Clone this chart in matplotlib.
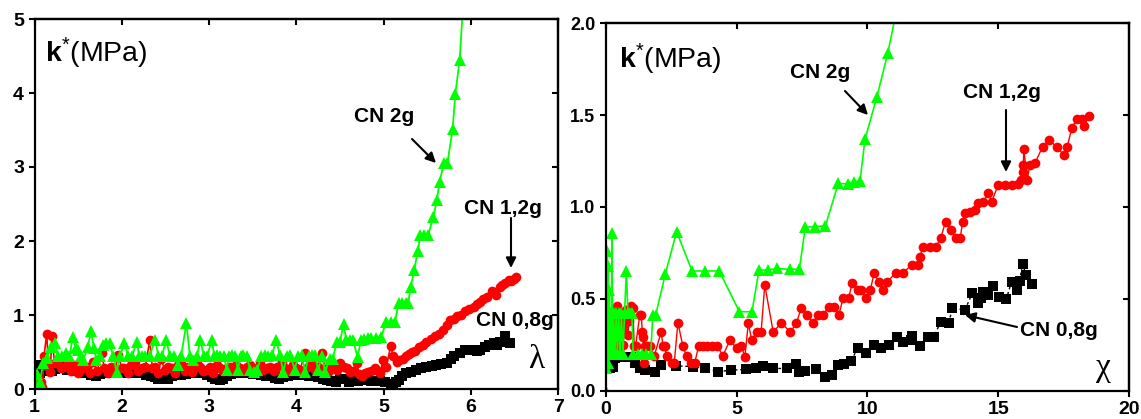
import matplotlib
matplotlib.use('Agg')
import matplotlib.pyplot as plt

plt.rcParams['font.family'] = ['Liberation Sans', 'DejaVu Sans']
plt.rcParams['mathtext.fontset'] = 'custom'
plt.rcParams['mathtext.rm'] = 'Liberation Sans'
plt.rcParams['mathtext.it'] = 'Liberation Sans:italic'
plt.rcParams['mathtext.bf'] = 'Liberation Sans:bold'

# ---------------- data: left panel (k* vs lambda) ----------------
left_xticks = [1, 2, 3, 4, 5, 6, 7]
left_yticks = [0, 1, 2, 3, 4, 5]

left_black_x = [1.00, 1.02, 1.04, 1.06, 1.08, 1.12, 1.16, 1.20, 1.24, 1.28, 1.32, 1.37, 1.42, 1.46, 1.50,
                1.55, 1.60, 1.65, 1.70, 1.75, 1.80, 1.84, 1.89, 1.94, 1.99, 2.03, 2.08, 2.13, 2.18, 2.23,
                2.28, 2.33, 2.38, 2.42, 2.47, 2.53, 2.58, 2.63, 2.68, 2.73, 2.78, 2.83, 2.88, 2.93, 2.98,
                3.03, 3.07, 3.12, 3.16, 3.20, 3.25, 3.30, 3.35, 3.40, 3.45, 3.50, 3.55, 3.60, 3.65, 3.70,
                3.75, 3.80, 3.85, 3.90, 3.95, 4.00, 4.05, 4.10, 4.15, 4.20, 4.25, 4.30, 4.35, 4.40, 4.45,
                4.50, 4.55, 4.60, 4.65, 4.70, 4.75, 4.80, 4.85, 4.90, 4.96, 5.02, 5.08, 5.11, 5.14, 5.17,
                5.21, 5.26, 5.31, 5.37, 5.43, 5.49, 5.55, 5.60, 5.66, 5.72, 5.77, 5.81, 5.87, 5.93, 5.98,
                6.03, 6.07, 6.10, 6.16, 6.21, 6.26, 6.30, 6.33, 6.39, 6.45]
left_black_y = [0.30, 0.25, 0.33, 0.22, 0.26, 0.24, 0.28, 0.25, 0.27, 0.30, 0.28, 0.26, 0.27, 0.28, 0.24,
                0.22, 0.21, 0.19, 0.18, 0.20, 0.22, 0.23, 0.22, 0.21, 0.22, 0.25, 0.24, 0.22, 0.21, 0.21,
                0.19, 0.18, 0.16, 0.14, 0.13, 0.14, 0.17, 0.19, 0.19, 0.20, 0.21, 0.22, 0.23, 0.21, 0.19,
                0.16, 0.14, 0.12, 0.13, 0.17, 0.20, 0.22, 0.23, 0.22, 0.21, 0.20, 0.21, 0.19, 0.18, 0.17,
                0.15, 0.14, 0.16, 0.18, 0.19, 0.19, 0.20, 0.19, 0.18, 0.17, 0.16, 0.14, 0.12, 0.11, 0.10,
                0.14, 0.13, 0.10, 0.12, 0.11, 0.12, 0.12, 0.11, 0.11, 0.11, 0.09, 0.07, 0.07, 0.10, 0.12,
                0.17, 0.21, 0.23, 0.26, 0.28, 0.30, 0.31, 0.32, 0.34, 0.35, 0.40, 0.44, 0.48, 0.53, 0.53,
                0.53, 0.52, 0.53, 0.57, 0.59, 0.62, 0.60, 0.64, 0.72, 0.62]

left_red_x = [1.00, 1.03, 1.05, 1.07, 1.09, 1.11, 1.14, 1.16, 1.18, 1.20, 1.23, 1.27, 1.30, 1.34, 1.38,
              1.42, 1.46, 1.50, 1.55, 1.60, 1.64, 1.67, 1.72, 1.77, 1.80, 1.84, 1.88, 1.92, 1.96, 2.00,
              2.03, 2.07, 2.11, 2.15, 2.19, 2.23, 2.27, 2.32, 2.35, 2.38, 2.42, 2.45, 2.49, 2.53, 2.57,
              2.61, 2.64, 2.68, 2.72, 2.76, 2.80, 2.83, 2.86, 2.90, 2.93, 2.97, 3.01, 3.05, 3.09, 3.13,
              3.16, 3.20, 3.24, 3.28, 3.31, 3.35, 3.39, 3.43, 3.47, 3.51, 3.55, 3.58, 3.62, 3.66, 3.70,
              3.74, 3.78, 3.83, 3.87, 3.91, 3.96, 4.00, 4.04, 4.10, 4.13, 4.17, 4.21, 4.25, 4.29, 4.33,
              4.37, 4.42, 4.46, 4.50, 4.54, 4.58, 4.61, 4.65, 4.69, 4.72, 4.75, 4.79, 4.82, 4.86, 4.90,
              4.93, 4.96, 4.99, 5.03, 5.08, 5.11, 5.15, 5.18, 5.22, 5.26, 5.29, 5.32, 5.36, 5.41, 5.45,
              5.49, 5.54, 5.59, 5.63, 5.68, 5.72, 5.76, 5.80, 5.84, 5.88, 5.93, 5.98, 6.03, 6.07, 6.10,
              6.14, 6.18, 6.24, 6.29, 6.33, 6.36, 6.39, 6.43, 6.46, 6.49, 6.52]
left_red_y = [0.00, 0.14, 0.05, 0.10, 0.03, 0.45, 0.75, 0.30, 0.23, 0.71, 0.35, 0.39, 0.28, 0.30, 0.35,
              0.25, 0.32, 0.22, 0.28, 0.30, 0.22, 0.37, 0.25, 0.48, 0.28, 0.22, 0.30, 0.25, 0.46, 0.28,
              0.28, 0.22, 0.33, 0.37, 0.24, 0.28, 0.30, 0.66, 0.28, 0.30, 0.22, 0.41, 0.26, 0.30, 0.28,
              0.22, 0.32, 0.35, 0.25, 0.30, 0.23, 0.28, 0.35, 0.30, 0.24, 0.26, 0.30, 0.22, 0.32, 0.28,
              0.25, 0.28, 0.30, 0.24, 0.32, 0.28, 0.25, 0.30, 0.32, 0.26, 0.28, 0.35, 0.26, 0.28, 0.30,
              0.24, 0.30, 0.37, 0.28, 0.25, 0.32, 0.28, 0.26, 0.48, 0.30, 0.35, 0.26, 0.30, 0.48, 0.28,
              0.24, 0.30, 0.26, 0.35, 0.30, 0.28, 0.23, 0.25, 0.35, 0.20, 0.17, 0.22, 0.23, 0.25, 0.28,
              0.24, 0.21, 0.39, 0.30, 0.58, 0.44, 0.36, 0.39, 0.40, 0.44, 0.47, 0.50, 0.52, 0.57, 0.60,
              0.64, 0.67, 0.71, 0.75, 0.80, 0.86, 0.93, 0.95, 0.98, 1.00, 1.05, 1.08, 1.11, 1.15, 1.18,
              1.21, 1.25, 1.32, 1.27, 1.38, 1.40, 1.43, 1.47, 1.46, 1.48, 1.51]

left_green_x = [1.00, 1.03, 1.06, 1.10, 1.14, 1.19, 1.23, 1.27, 1.31, 1.36, 1.40, 1.44, 1.47, 1.50, 1.53,
                1.56, 1.61, 1.65, 1.68, 1.71, 1.75, 1.78, 1.82, 1.86, 1.90, 1.94, 1.98, 2.03, 2.07, 2.12,
                2.17, 2.20, 2.23, 2.27, 2.32, 2.38, 2.42, 2.46, 2.51, 2.55, 2.60, 2.64, 2.68, 2.74, 2.78,
                2.82, 2.86, 2.90, 2.94, 2.98, 3.03, 3.06, 3.09, 3.13, 3.17, 3.20, 3.23, 3.26, 3.30, 3.33,
                3.36, 3.39, 3.43, 3.47, 3.51, 3.55, 3.60, 3.64, 3.68, 3.72, 3.77, 3.81, 3.85, 3.89, 3.93,
                3.98, 4.02, 4.06, 4.10, 4.14, 4.18, 4.21, 4.25, 4.29, 4.33, 4.38, 4.42, 4.46, 4.50, 4.54,
                4.57, 4.61, 4.65, 4.70, 4.74, 4.78, 4.82, 4.86, 4.91, 4.97, 5.03, 5.08, 5.13, 5.17, 5.21,
                5.25, 5.28, 5.31, 5.35, 5.39, 5.42, 5.46, 5.51, 5.57, 5.61, 5.64, 5.69, 5.73, 5.79, 5.82,
                5.87, 5.91]
left_green_y = [0.00, 0.20, 0.10, 0.35, 0.42, 0.57, 0.62, 0.45, 0.44, 0.48, 0.45, 0.70, 0.55, 0.53, 0.45,
                0.39, 0.57, 0.78, 0.55, 0.39, 0.45, 0.59, 0.62, 0.62, 0.45, 0.23, 0.45, 0.62, 0.45, 0.45,
                0.64, 0.45, 0.44, 0.45, 0.45, 0.66, 0.45, 0.45, 0.66, 0.45, 0.45, 0.32, 0.45, 0.89, 0.45,
                0.39, 0.45, 0.66, 0.45, 0.45, 0.66, 0.45, 0.46, 0.45, 0.45, 0.26, 0.45, 0.46, 0.45, 0.26,
                0.45, 0.46, 0.45, 0.26, 0.23, 0.26, 0.45, 0.46, 0.45, 0.46, 0.66, 0.46, 0.23, 0.45, 0.46,
                0.26, 0.45, 0.46, 0.23, 0.45, 0.46, 0.46, 0.26, 0.45, 0.23, 0.41, 0.41, 0.64, 0.64, 0.88,
                0.66, 0.66, 0.66, 0.43, 0.66, 0.68, 0.69, 0.69, 0.69, 0.70, 0.91, 0.91, 0.91, 1.16, 1.16,
                1.16, 1.16, 1.38, 1.61, 1.86, 2.08, 2.08, 2.08, 2.33, 2.56, 2.80, 3.05, 3.05, 3.52, 3.98,
                4.45, 5.20]

# ---------------- data: right panel (k* vs chi) ----------------
right_xticks = [0, 5, 10, 15, 20]
right_yticks = [0.0, 0.5, 1.0, 1.5, 2.0]
right_yticklabels = ['0.0', '0.5', '1.0', '1.5', '2.0']

right_black_x = [0.10, 0.15, 0.18, 0.21, 0.26, 0.34, 0.50, 0.66, 0.98, 1.11, 1.30, 1.49, 1.87, 2.13, 2.70,
                 3.34, 3.78, 4.29, 4.80, 5.38, 5.73, 6.01, 6.40, 6.92, 7.29, 7.40, 7.61, 8.03, 8.38, 8.63,
                 8.87, 9.10, 9.39, 9.63, 9.93, 10.26, 10.53, 10.81, 11.13, 11.37, 11.65, 11.72, 12.02, 12.30,
                 12.55, 12.80, 13.11, 13.25, 13.73, 14.01, 14.22, 14.33, 14.43, 14.61, 14.82, 15.03, 15.31,
                 15.51, 15.72, 15.82, 15.93, 16.07, 16.31]
right_black_y = [0.19, 0.12, 0.16, 0.18, 0.13, 0.175, 0.18, 0.184, 0.184, 0.148, 0.12, 0.111, 0.102, 0.139,
                 0.134, 0.13, 0.12, 0.102, 0.111, 0.115, 0.12, 0.134, 0.12, 0.12, 0.143, 0.102, 0.107, 0.116,
                 0.075, 0.084, 0.139, 0.143, 0.161, 0.233, 0.202, 0.247, 0.233, 0.25, 0.293, 0.266, 0.275,
                 0.297, 0.242, 0.293, 0.293, 0.375, 0.368, 0.448, 0.439, 0.529, 0.475, 0.502, 0.538, 0.52,
                 0.569, 0.508, 0.497, 0.593, 0.547, 0.597, 0.689, 0.629, 0.581]

right_red_x = [0.02, 0.05, 0.08, 0.11, 0.14, 0.18, 0.22, 0.26, 0.30, 0.35, 0.40, 0.44, 0.48, 0.52, 0.57,
               0.62, 0.67, 0.72, 0.78, 0.84, 0.90, 0.98, 1.04, 1.09, 1.14, 1.30, 1.36, 1.40, 1.43, 1.47,
               1.49, 1.56, 1.68, 1.86, 2.12, 2.19, 2.25, 2.33, 2.53, 2.62, 2.76, 2.95, 3.09, 3.27, 3.40,
               3.55, 3.70, 3.86, 4.07, 4.27, 4.48, 4.75, 5.00, 5.18, 5.32, 5.45, 5.58, 5.80, 5.94, 6.08,
               6.40, 6.71, 7.06, 7.29, 7.47, 7.71, 7.93, 8.10, 8.31, 8.52, 8.72, 8.91, 9.07, 9.28, 9.42,
               9.63, 9.77, 9.93, 10.11, 10.26, 10.43, 10.58, 10.77, 11.09, 11.37, 11.69, 11.93, 12.02,
               12.11, 12.41, 12.62, 12.80, 12.99, 13.18, 13.39, 13.55, 13.64, 13.73, 13.94, 14.11, 14.24,
               14.43, 14.62, 14.75, 15.00, 15.26, 15.51, 15.77, 15.87, 15.93, 15.96, 15.98, 16.11, 16.21,
               16.40, 16.70, 16.95, 17.23, 17.51, 17.64, 17.81, 18.00, 18.19, 18.28, 18.48]
right_red_y = [0.20, 0.35, 0.25, 0.40, 0.34, 0.22, 0.38, 0.30, 0.44, 0.25, 0.36, 0.46, 0.30, 0.22, 0.40,
               0.33, 0.25, 0.37, 0.44, 0.30, 0.38, 0.46, 0.45, 0.24, 0.24, 0.41, 0.41, 0.32, 0.29, 0.15,
               0.24, 0.24, 0.24, 0.19, 0.32, 0.24, 0.24, 0.19, 0.15, 0.15, 0.37, 0.24, 0.19, 0.15, 0.15,
               0.24, 0.24, 0.24, 0.24, 0.24, 0.19, 0.275, 0.23, 0.24, 0.185, 0.366, 0.275, 0.32, 0.32, 0.575,
               0.32, 0.366, 0.32, 0.366, 0.45, 0.411, 0.366, 0.411, 0.411, 0.457, 0.457, 0.411, 0.502, 0.502,
               0.584, 0.547, 0.547, 0.502, 0.547, 0.638, 0.593, 0.547, 0.593, 0.642, 0.642, 0.684, 0.684,
               0.729, 0.783, 0.783, 0.783, 0.829, 0.919, 0.874, 0.829, 0.829, 0.919, 0.965, 0.974, 0.983,
               1.019, 1.028, 1.074, 1.028, 1.119, 1.119, 1.119, 1.124, 1.147, 1.192, 1.228, 1.313, 1.147,
               1.228, 1.237, 1.328, 1.364, 1.328, 1.283, 1.328, 1.428, 1.477, 1.477, 1.44, 1.495]

right_green_x = [0.00, 0.01, 0.02, 0.03, 0.05, 0.06, 0.08, 0.10, 0.12, 0.14, 0.16, 0.19, 0.22, 0.24, 0.27,
                 0.30, 0.35, 0.40, 0.45, 0.50, 0.55, 0.60, 0.66, 0.72, 0.79, 0.85, 0.93, 1.00, 1.05, 1.25,
                 1.40, 1.55, 1.72, 1.80, 1.91, 2.28, 2.71, 3.30, 3.78, 4.34, 5.11, 5.59, 5.86, 6.19, 6.54,
                 7.03, 7.40, 7.63, 7.99, 8.40, 8.89, 9.27, 9.49, 9.72, 9.91, 10.36, 10.78, 11.30]
right_green_y = [0.00, 0.55, 0.12, 0.70, 0.30, 0.76, 0.15, 0.68, 0.25, 0.55, 0.20, 0.42, 0.20, 0.86, 0.20,
                 0.42, 0.20, 0.42, 0.20, 0.42, 0.20, 0.42, 0.20, 0.42, 0.65, 0.42, 0.42, 0.42, 0.20, 0.20,
                 0.20, 0.20, 0.20, 0.41, 0.41, 0.635, 0.865, 0.651, 0.651, 0.651, 0.429, 0.429, 0.656, 0.656,
                 0.665, 0.66, 0.66, 0.89, 0.892, 0.898, 1.128, 1.125, 1.137, 1.141, 1.368, 1.597, 1.836, 2.20]

# ---------------- figure ----------------
W, H = 1141, 419
fig = plt.figure(figsize=(W / 100, H / 100), dpi=100)


def px_axes(x0, x1, ytop, ybot):
    return fig.add_axes([x0 / W, 1 - ybot / H, (x1 - x0) / W, (ybot - ytop) / H])


axL = px_axes(34.5, 558.3, 19, 389)
axR = px_axes(605.7, 1129, 23.3, 390.5)

GREEN = '#00ff00'
RED = '#ff0000'
BLACK = '#000000'

# left series
axL.plot(left_black_x, left_black_y, color=BLACK, ls='-', lw=1.2, marker='s', ms=6.5, mew=0)
axL.plot(left_red_x, left_red_y, color=RED, ls='-', lw=1.2, marker='o', ms=7, mew=0)
axL.plot(left_green_x, left_green_y, color=GREEN, ls='-', lw=1.3, marker='^', ms=8, mew=0)

# right series
axR.plot(right_black_x, right_black_y, color=BLACK, ls=(0, (2, 2)), lw=1.0, marker='s', ms=6.5, mew=0)
axR.plot(right_red_x, right_red_y, color=RED, ls='-', lw=1.0, marker='o', ms=7, mew=0)
axR.plot(right_green_x, right_green_y, color=GREEN, ls='-', lw=1.2, marker='^', ms=8.5, mew=0)


def style(ax, xlim, ylim, xt, yt, ytl=None, xfs=14, yfs=14):
    ax.set_xlim(*xlim)
    ax.set_ylim(*ylim)
    ax.set_xticks(xt)
    ax.set_yticks(yt)
    if ytl is not None:
        ax.set_yticklabels(ytl)
    for s in ax.spines.values():
        s.set_linewidth(1.6)
    ax.tick_params(direction='out', length=4.5, width=1.5, pad=3)
    ax.tick_params(axis='x', labelsize=xfs)
    ax.tick_params(axis='y', labelsize=yfs)
    for lab in ax.get_xticklabels() + ax.get_yticklabels():
        lab.set_fontweight('bold')
    top = ax.secondary_xaxis('top')
    top.set_xticks(xt)
    top.tick_params(direction='in', length=4.5, width=1.5, labeltop=False)
    top.spines['top'].set_linewidth(1.6)
    right = ax.secondary_yaxis('right')
    right.set_yticks(yt)
    right.tick_params(direction='in', length=4.5, width=1.5, labelright=False)
    right.spines['right'].set_linewidth(1.6)


style(axL, (1, 7), (0, 5), left_xticks, left_yticks)
style(axR, (0, 20), (0, 2.0), right_xticks, right_yticks, right_yticklabels, xfs=14, yfs=13)

# y-axis titles inside axes
axL.text(0.02, 0.884, r'$\mathbf{k}^{*}$(MPa)', transform=axL.transAxes, fontsize=20.5,
         ha='left', va='baseline')
axR.text(0.025, 0.878, r'$\mathbf{k}^{*}$(MPa)', transform=axR.transAxes, fontsize=20.5,
         ha='left', va='baseline')

# axis symbols
fig.text(536 / W, 1 - 360 / H, 'λ', fontsize=24, family=['Liberation Serif', 'DejaVu Serif'],
         ha='center', va='center')
fig.text(1103 / W, 1 - 368 / H, 'χ', fontsize=24, family=['Liberation Serif', 'DejaVu Serif'],
         ha='center', va='center')

# annotations
lab_kw = dict(fontsize=15, fontweight='bold', ha='center', va='center')
fig.text(384 / W, 1 - 117 / H, 'CN 2g', **lab_kw)
fig.text(503 / W, 1 - 208 / H, 'CN 1,2g', **lab_kw)
fig.text(515 / W, 1 - 320 / H, 'CN 0,8g', **lab_kw)
fig.text(820 / W, 1 - 72 / H, 'CN 2g', **lab_kw)
fig.text(1002 / W, 1 - 92 / H, 'CN 1,2g', **lab_kw)
fig.text(1059 / W, 1 - 330 / H, 'CN 0,8g', **lab_kw)

arrows = [((412, 139), (436, 163)), ((511, 218), (511, 268)), ((845, 91), (868, 115)),
          ((1006, 110), (1006, 172)), ((1017, 327), (965, 315))]
for (x0, y0), (x1, y1) in arrows:
    fig.add_artist(matplotlib.patches.FancyArrowPatch(
        (x0 / W, 1 - y0 / H), (x1 / W, 1 - y1 / H), transform=fig.transFigure,
        arrowstyle='-|>,head_length=6,head_width=3', color='black', lw=1.5,
        shrinkA=0, shrinkB=0))

fig.savefig('out.png', dpi=100)
